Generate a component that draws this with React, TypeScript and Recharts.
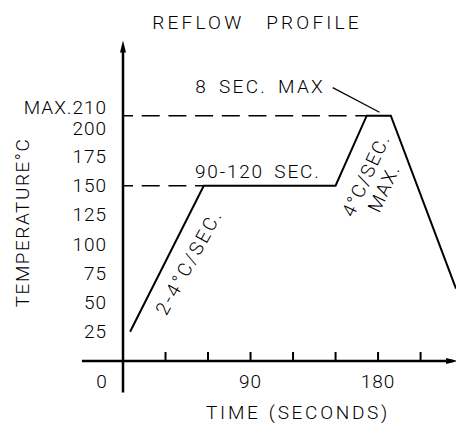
import React from "react";
import { LineChart, Line, XAxis, YAxis, ReferenceLine, ReferenceDot } from "recharts";

// reflow profile, seconds vs °C
const timeSec = [5, 57, 150, 172, 189, 235];
const tempC = [25, 150, 150, 210, 210, 62];
const yTicks = [25, 50, 75, 100, 125, 150, 175, 200, 210];
const xTicks = [0, 30, 60, 90, 120, 150, 180, 210];
const xLabeled = [0, 90, 180];

const data = timeSec.map((t, i) => ({ t, temp: tempC[i] }));

const FONT = "Roboto, 'DejaVu Sans', sans-serif";
const txt = { fontFamily: FONT, fontWeight: 300, fontSize: 19, fill: "#000" };

const YTick = ({ x, y, payload }: any) => {
  const v = payload.value;
  const dy = v === 210 ? -8 : v === 200 ? 1 : 0;
  return (
    <text x={x} y={y + dy} textAnchor="end" dominantBaseline="central" {...txt} letterSpacing={1}>
      {v === 210 ? "MAX.210" : v}
    </text>
  );
};

const XTick = ({ x, y, payload }: any) => {
  const v = payload.value;
  return (
    <g>
      {v > 0 && <line x1={x} x2={x} y1={y - 20} y2={y - 29} stroke="#000" strokeWidth={2} />}
      {xLabeled.includes(v) && (
        <text x={v === 0 ? x - 21 : x} y={y} textAnchor="middle" dominantBaseline="central" {...txt} letterSpacing={1}>
          {v}
        </text>
      )}
    </g>
  );
};

const note = (text: string, angle: number, anchor: string = "middle", ls = 1.5, ws = 0) => (p: any) => (
  <text
    x={p.cx}
    y={p.cy}
    textAnchor={anchor}
    dominantBaseline="central"
    transform={`rotate(${angle} ${p.cx} ${p.cy})`}
    {...txt}
    letterSpacing={ls}
    wordSpacing={ws}
  >
    {text}
  </text>
);

const arrowUp = (p: any) => <polygon points={`${p.cx},${p.cy - 4} ${p.cx - 3},${p.cy + 8} ${p.cx + 3},${p.cy + 8}`} fill="#000" />;
const arrowRight = (p: any) => <polygon points={`${p.cx + 2},${p.cy} ${p.cx - 10},${p.cy - 3} ${p.cx - 10},${p.cy + 3}`} fill="#000" />;

export default function App() {
  return (
    <div style={{ position: "absolute", left: 0, top: 0, width: 456, height: 424, background: "#fff" }}>
      <LineChart width={456} height={424} data={data} margin={{ top: 45.6, right: 0, bottom: 0, left: 0 }}>
        <XAxis
          type="number"
          dataKey="t"
          domain={[0, 235]}
          ticks={xTicks}
          allowDataOverflow
          height={63}
          axisLine={false}
          tickLine={false}
          tickSize={0}
          tickMargin={20}
          tick={<XTick />}
          interval={0}
        />
        <YAxis
          type="number"
          domain={[0, 270]}
          ticks={yTicks}
          width={123}
          axisLine={false}
          tickLine={false}
          tickSize={0}
          tickMargin={16}
          tick={<YTick />}
          interval={0}
        />
        <ReferenceLine segment={[{ x: 0, y: 210 }, { x: 172, y: 210 }]} stroke="#000" strokeWidth={1.5} strokeDasharray="18 8.7" strokeDashoffset={8} ifOverflow="visible" />
        <ReferenceLine segment={[{ x: 0, y: 150 }, { x: 57, y: 150 }]} stroke="#000" strokeWidth={1.5} strokeDasharray="18 8.7" strokeDashoffset={8} ifOverflow="visible" />
        <ReferenceLine segment={[{ x: 0, y: -27 }, { x: 0, y: 268 }]} stroke="#000" strokeWidth={2.5} ifOverflow="visible" />
        <ReferenceLine segment={[{ x: -29, y: 0 }, { x: 233, y: 0 }]} stroke="#000" strokeWidth={2.5} ifOverflow="visible" />
        <ReferenceLine segment={[{ x: 148, y: 234 }, { x: 181, y: 213 }]} stroke="#000" strokeWidth={1.2} ifOverflow="visible" />
        <ReferenceDot x={0} y={271} r={0} ifOverflow="visible" shape={arrowUp} />
        <ReferenceDot x={235} y={0} r={0} ifOverflow="visible" shape={arrowRight} />
        <Line type="linear" dataKey="temp" stroke="#000" strokeWidth={2} dot={false} isAnimationActive={false} />
        <ReferenceDot x={94.6} y={290} r={0} ifOverflow="visible" shape={note("REFLOW PROFILE", 0, "middle", 3.2, 14)} />
        <ReferenceDot x={-71} y={118.6} r={0} ifOverflow="visible" shape={note("TEMPERATURE°C", -90)} />
        <ReferenceDot x={123.5} y={-44} r={0} ifOverflow="visible" shape={note("TIME (SECONDS)", 0, "middle", 2.7, 1)} />
        <ReferenceDot x={142.6} y={234.6} r={0} ifOverflow="visible" shape={note("8 SEC. MAX", 0, "end", 2.3, 4)} />
        <ReferenceDot x={50.8} y={161.8} r={0} ifOverflow="visible" shape={note("90-120 SEC.", 0, "start", 1.8, 4)} />
        <ReferenceDot x={46.6} y={84.8} r={0} ifOverflow="visible" shape={note("2-4°C/SEC.", -61, "middle", 2.5)} />
        <ReferenceDot x={171.5} y={159} r={0} ifOverflow="visible" shape={note("4°C/SEC.", -65)} />
        <ReferenceDot x={184.2} y={148} r={0} ifOverflow="visible" shape={note("MAX.", -65)} />
      </LineChart>
    </div>
  );
}
